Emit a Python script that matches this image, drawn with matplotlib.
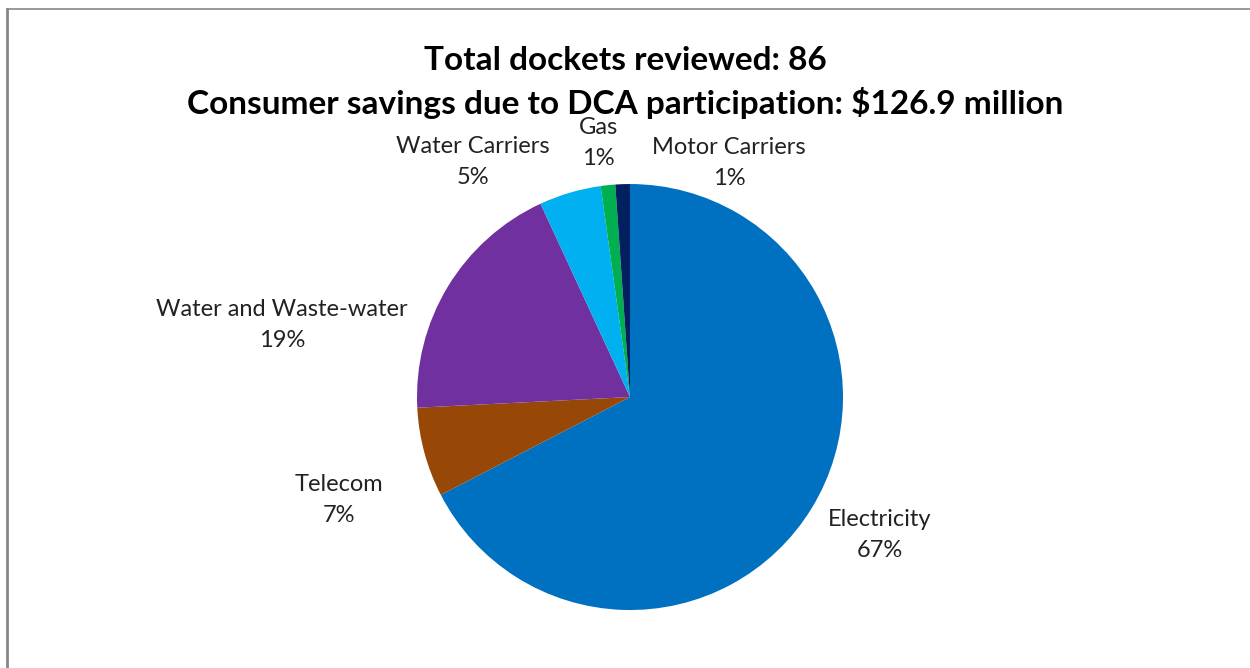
import matplotlib
matplotlib.use("Agg")
import matplotlib.pyplot as plt
from matplotlib.lines import Line2D

# data (share of consumer savings, %)
sectors = ["Electricity", "Telecom", "Water and Waste-water",
           "Water Carriers", "Gas", "Motor Carriers"]
shares = [67.4, 6.8, 18.9, 4.7, 1.1, 1.1]
colors = ["#0070C0", "#974806", "#7030A0", "#00B0F0", "#00B050", "#002060"]

title_lines = ["Total dockets reviewed: 86",
               "Consumer savings due to DCA participation: $126.9 million"]

# label placement (in pie radius units), Excel "best fit" style
label_pos = [(1.174, -0.648), (-1.366, -0.484), (-1.634, 0.338),
             (-0.737, 1.103), (-0.150, 1.192), (0.465, 1.099)]

plt.rcParams["font.family"] = ["Lato", "DejaVu Sans"]

fig = plt.figure(figsize=(12.5, 6.68), dpi=100)
ax = fig.add_axes([0.3336, 0.0868, 0.3408, 0.6377])

ax.pie(shares, colors=colors, startangle=90, counterclock=False,
       radius=1.0, wedgeprops=dict(linewidth=0))
ax.set_aspect("auto")
ax.set_xlim(-1, 1)
ax.set_ylim(-1, 1)
ax.axis("off")

total = sum(shares)
for name, v, (x, y) in zip(sectors, shares, label_pos):
    ax.text(x, y, f"{name}\n{round(v / total * 100):d}%", ha="center",
            va="center", fontsize=17, color="#222222", linespacing=1.55,
            clip_on=False)

fig.text(0.5, 1 - 60 / 668, title_lines[0], ha="center", va="center",
         fontsize=24, fontweight="bold")
fig.text(0.5, 1 - 103 / 668, title_lines[1], ha="center", va="center",
         fontsize=24, fontweight="bold")

# chart-area frame (left and top edges visible)
fig.add_artist(Line2D([7 / 1250, 7 / 1250], [0, 1 - 9 / 668],
                      transform=fig.transFigure, color="#888888", lw=2))
fig.add_artist(Line2D([7 / 1250, 1], [1 - 9 / 668, 1 - 9 / 668],
                      transform=fig.transFigure, color="#888888", lw=1.2))

fig.savefig("out.png", dpi=100, facecolor="white")
